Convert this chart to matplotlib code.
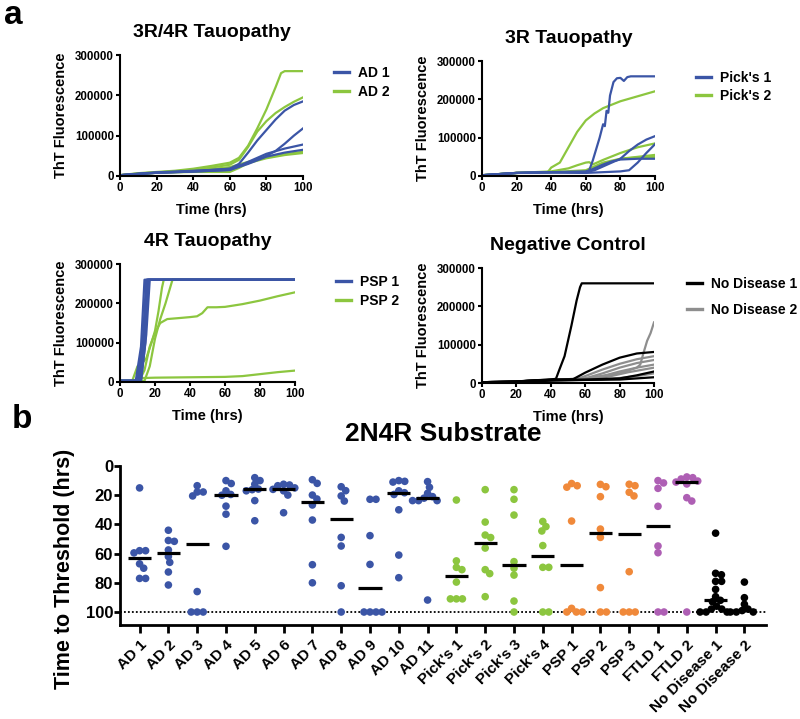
import numpy as np
import matplotlib
matplotlib.use("Agg")
import matplotlib.pyplot as plt
from matplotlib.lines import Line2D

plt.rcParams['font.family'] = ['Liberation Sans', 'DejaVu Sans']
plt.rcParams['font.weight'] = 'bold'
plt.rcParams['axes.labelweight'] = 'bold'
plt.rcParams['axes.titleweight'] = 'bold'

BLUE = '#3B55A6'
GREEN = '#8CC63F'
ORANGE = '#F0893A'
PURPLE = '#AE5FB4'
GRAY = '#8E8E8E'

# ---------------- panel a data: (time, ThT) ----------------
AD1_curves = [
    ([0, 10, 20, 30, 40, 50, 60, 65, 70, 75, 80, 85, 90, 95, 100],
     [2000, 6000, 9000, 11000, 13000, 15000, 18000, 30000, 58000, 88000, 114000, 140000, 162000, 176000, 185000]),
    ([0, 10, 20, 40, 60, 70, 80, 85, 90, 95, 100],
     [2000, 5000, 8000, 12000, 18000, 32000, 50000, 62000, 80000, 100000, 118000]),
    ([0, 10, 20, 40, 60, 70, 80, 90, 100],
     [2000, 5000, 8000, 11000, 15000, 35000, 55000, 68000, 78000]),
    ([0, 10, 20, 40, 60, 70, 80, 90, 100],
     [2000, 5000, 8000, 11000, 15000, 30000, 48000, 58000, 65000]),
]
AD2_curves = [
    ([0, 10, 20, 30, 40, 50, 60, 65, 70, 75, 80, 85, 88, 90, 100],
     [2000, 7000, 10000, 13000, 18000, 25000, 33000, 45000, 75000, 118000, 165000, 220000, 255000, 260000, 260000]),
    ([0, 10, 20, 40, 60, 65, 70, 75, 80, 85, 90, 95, 100],
     [2000, 6000, 9000, 14000, 28000, 40000, 72000, 110000, 136000, 156000, 171000, 184000, 195000]),
    ([0, 10, 20, 40, 60, 70, 80, 90, 100],
     [2000, 5000, 8000, 12000, 22000, 35000, 46000, 54000, 60000]),
    ([0, 10, 20, 40, 60, 65, 70, 80, 90, 100],
     [2000, 5000, 8000, 10000, 10000, 20000, 32000, 44000, 52000, 57000]),
]
PICK1_curves = [
    ([0, 10, 20, 40, 60, 62, 64, 66, 68, 70, 71, 72, 73, 74, 76, 78, 80, 82, 84, 86, 100],
     [2000, 5000, 8000, 10000, 12000, 15000, 40000, 70000, 100000, 135000, 130000, 170000, 165000, 210000, 245000, 255000, 256000, 248000, 258000, 260000, 260000]),
    ([0, 10, 20, 40, 60, 65, 70, 75, 80, 85, 90, 95, 100],
     [2000, 5000, 8000, 10000, 10000, 15000, 25000, 35000, 45000, 65000, 82000, 95000, 104000]),
    ([0, 10, 20, 40, 60, 70, 80, 85, 90, 95, 100],
     [2000, 5000, 8000, 9000, 8000, 10000, 12000, 15000, 35000, 60000, 83000]),
    ([0, 10, 20, 40, 60, 65, 70, 75, 80, 90, 100],
     [2000, 5000, 8000, 10000, 10000, 20000, 30000, 38000, 43000, 45000, 45000]),
]
PICK2_curves = [
    ([0, 10, 20, 30, 38, 40, 45, 50, 55, 60, 65, 70, 80, 90, 100],
     [2000, 5000, 8000, 9000, 10000, 22000, 35000, 75000, 115000, 145000, 163000, 177000, 195000, 208000, 221000]),
    ([0, 10, 20, 40, 50, 55, 60, 62, 64, 70, 80, 90, 100],
     [2000, 5000, 8000, 12000, 20000, 28000, 35000, 36000, 30000, 42000, 60000, 75000, 85000]),
    ([0, 10, 20, 40, 60, 65, 70, 80, 90, 100],
     [2000, 5000, 8000, 10000, 15000, 25000, 35000, 45000, 50000, 55000]),
    ([0, 10, 20, 40, 60, 70, 80, 90, 100],
     [2000, 5000, 8000, 10000, 10000, 30000, 45000, 48000, 50000]),
]
PSP1_curves = [
    ([0, 9, 12, 14, 100], [3000, 3000, 90000, 260000, 260000]),
    ([0, 10, 13, 15, 100], [3000, 3000, 100000, 260000, 260000]),
    ([0, 11, 14, 16, 100], [3000, 3000, 110000, 260000, 260000]),
    ([0, 12, 15, 17, 100], [3000, 3000, 120000, 260000, 260000]),
    ([0, 10, 14, 16, 100], [3000, 3000, 130000, 260000, 260000]),
    ([0, 12, 14.5, 15.5, 100], [3000, 3000, 100000, 260000, 260000]),
]
PSP2_curves = [
    ([0, 7, 10, 12, 15, 18, 20, 22, 24, 25, 100],
     [3000, 3000, 40000, 45000, 60000, 100000, 130000, 180000, 240000, 260000, 260000]),
    ([0, 14, 17, 20, 23, 26, 30, 100],
     [3000, 3000, 40000, 110000, 160000, 200000, 260000, 260000]),
    ([0, 11, 14, 17, 20, 23, 27, 35, 40, 44, 47, 50, 55, 60, 70, 80, 90, 100],
     [3000, 3000, 30000, 90000, 125000, 150000, 160000, 163000, 165000, 167000, 175000, 190000, 190000, 191000, 198000, 207000, 218000, 228000]),
    ([0, 8, 10, 12, 20, 40, 60, 70, 80, 90, 100],
     [3000, 3000, 8000, 10000, 11000, 12000, 13000, 15000, 20000, 25000, 29000]),
]
ND1_curves = [
    ([0, 20, 30, 40, 43, 45, 48, 50, 52, 55, 57, 58, 100],
     [2000, 4000, 7000, 9000, 11000, 35000, 70000, 110000, 150000, 215000, 250000, 260000, 260000]),
    ([0, 20, 40, 53, 60, 70, 80, 90, 100],
     [2000, 4000, 9000, 10000, 27000, 48000, 66000, 77000, 81000]),
    ([0, 20, 40, 60, 80, 90, 100],
     [1000, 4000, 8000, 9000, 12000, 20000, 30000]),
    ([0, 20, 40, 60, 80, 90, 100],
     [1000, 3000, 6000, 8000, 9000, 12000, 15000]),
]
ND2_curves = [
    ([0, 20, 40, 60, 80, 90, 92, 94, 96, 98, 100],
     [2000, 4000, 8000, 12000, 25000, 40000, 48000, 80000, 110000, 130000, 158000]),
    ([0, 20, 40, 55, 60, 70, 80, 90, 100],
     [2000, 4000, 8000, 10000, 18000, 35000, 50000, 62000, 70000]),
    ([0, 20, 40, 60, 70, 80, 90, 100],
     [2000, 4000, 8000, 12000, 25000, 40000, 52000, 60000]),
    ([0, 20, 40, 60, 70, 80, 90, 100],
     [2000, 4000, 8000, 10000, 18000, 30000, 40000, 48000]),
    ([0, 20, 40, 65, 75, 85, 100],
     [2000, 4000, 8000, 10000, 18000, 28000, 40000]),
    ([0, 20, 40, 70, 80, 90, 100],
     [2000, 4000, 7000, 9000, 13000, 18000, 25000]),
]

# ---------------- panel b data ----------------
categories = ['AD 1', 'AD 2', 'AD 3', 'AD 4', 'AD 5', 'AD 6', 'AD 7', 'AD 8', 'AD 9',
              'AD 10', 'AD 11', "Pick's 1", "Pick's 2", "Pick's 3", "Pick's 4",
              'PSP 1', 'PSP 2', 'PSP 3', 'FTLD 1', 'FTLD 2', 'No Disease 1', 'No Disease 2']
AD_1 = [15, 58, 58, 59.5, 67, 70, 77, 77]
AD_2 = [44, 51, 51.6, 57.5, 62, 66, 72.6, 81.5]
AD_3 = [13.5, 17.8, 17.8, 20.5, 86, 100, 100, 100]
AD_4 = [10, 12, 17, 19.5, 20, 27.5, 33, 55]
AD_5 = [8, 10, 12.5, 15.8, 16.2, 17, 23.7, 37.5]
AD_6 = [12.5, 13, 13.5, 15, 16, 17, 19.9, 32]
AD_7 = [9.4, 11.9, 19.9, 22.6, 26.7, 37, 67.6, 80]
AD_8 = [14.2, 16.9, 20.5, 24, 48.9, 54.8, 82, 100]
AD_9 = [22.8, 22.8, 47.7, 67.4, 100, 100, 100, 100]
AD_10 = [10, 10.5, 11, 17, 18.3, 19.5, 30, 61, 76.5]
AD_11 = [10.7, 14.6, 18.7, 21, 22, 23.7, 23.7, 23.7, 91.8]
PICKS_1 = [23.3, 65, 69.4, 71, 79.5, 91, 91, 91]
PICKS_2 = [16.2, 38.4, 47.3, 49, 56.2, 71, 73.7, 89.5]
PICKS_3 = [16.2, 22.8, 33.6, 65.5, 70, 74.7, 92.5, 100]
PICKS_4 = [38, 41.5, 44.5, 54.5, 69.4, 69.4, 100, 100]
PSP_1 = [12, 13.5, 14.5, 37.7, 97.5, 100, 100, 100]
PSP_2 = [12.6, 14.2, 21, 43.2, 48.9, 83.3, 100, 100]
PSP_3 = [12.5, 13.5, 18, 20.5, 72.4, 100, 100, 100]
FTLD_1 = [10, 11.6, 15.3, 27.6, 54.8, 59.4, 100, 100]
FTLD_2 = [7.5, 8, 8.9, 10.3, 11, 12.3, 21.7, 24, 100]
ND_1 = [46, 73.5, 74.5, 79, 79, 84.5, 89.5, 92, 93, 96, 98, 98, 100, 100, 100]
ND_2 = [79.5, 90.2, 94.7, 98, 99, 100, 100, 100]
group_values = [AD_1, AD_2, AD_3, AD_4, AD_5, AD_6, AD_7, AD_8, AD_9, AD_10, AD_11,
                PICKS_1, PICKS_2, PICKS_3, PICKS_4, PSP_1, PSP_2, PSP_3,
                FTLD_1, FTLD_2, ND_1, ND_2]
group_colors = [BLUE] * 11 + [GREEN] * 4 + [ORANGE] * 3 + [PURPLE] * 2 + ['black'] * 2
threshold = 100

fig = plt.figure(figsize=(8, 7.19), dpi=100)
W, H = 800, 719


def add_ax(l, r, t, b):
    return fig.add_axes([l / W, 1 - b / H, (r - l) / W, (b - t) / H])


def style_top(ax, title):
    ax.set_xlim(0, 100)
    ax.set_ylim(0, 300000)
    ax.set_xticks(range(0, 101, 20))
    ax.set_yticks([0, 100000, 200000, 300000])
    ax.set_yticklabels(['0', '100000', '200000', '300000'])
    for s in ['top', 'right']:
        ax.spines[s].set_visible(False)
    for s in ['left', 'bottom']:
        ax.spines[s].set_linewidth(1.5)
    ax.tick_params(direction='out', length=3, width=1.5, labelsize=8.3, pad=1.5)
    ax.set_xlabel('Time (hrs)', fontsize=10.5, labelpad=6)
    ax.set_ylabel('ThT Fluorescence', fontsize=10.5, labelpad=5)
    ax.set_title(title, fontsize=14, pad=13)


def line_panel(ax, groups, labels, colors, title, leg_xy, spacing):
    for curves, col in zip(groups[::-1], colors[::-1]):
        for t, y in curves:
            ax.plot(t, y, color=col, lw=1.6, solid_joinstyle='round')
    style_top(ax, title)
    handles = [Line2D([], [], color=c, lw=2.4) for c in colors]
    ax.legend(handles, labels, loc='upper left', bbox_to_anchor=(leg_xy[0] / W, 1 - leg_xy[1] / H),
              bbox_transform=fig.transFigure, frameon=False, fontsize=10,
              handlelength=1.1, handletextpad=0.6, borderaxespad=0, borderpad=0,
              labelspacing=spacing)


ax1 = add_ax(120, 303, 55, 176)
line_panel(ax1, [AD1_curves, AD2_curves], ['AD 1', 'AD 2'], [BLUE, GREEN], '3R/4R Tauopathy', (334, 66), 0.35)
ax2 = add_ax(482, 655, 61, 176)
line_panel(ax2, [PICK1_curves, PICK2_curves], ["Pick's 1", "Pick's 2"], [BLUE, GREEN], '3R Tauopathy', (696, 71), 0.3)
ax3 = add_ax(120, 295, 264, 382)
line_panel(ax3, [PSP1_curves, PSP2_curves], ['PSP 1', 'PSP 2'], [BLUE, GREEN], '4R Tauopathy', (336, 275), 0.35)
ax4 = add_ax(482, 654, 268, 383)
line_panel(ax4, [ND1_curves, ND2_curves], ['No Disease 1', 'No Disease 2'], ['black', GRAY], 'Negative Control', (687, 277), 0.85)

# ---------------- panel b ----------------
ax5 = add_ax(120, 766, 466, 625)
ax5.set_xlim(-0.68, 21.75)
ax5.set_ylim(108.9, 0)
ax5.axhline(threshold, color='black', lw=1.3, ls=(0, (1, 1.2)), zorder=1)


def swarm_positions(vals, xc, ax, dmin):
    vals = np.asarray(vals, dtype=float)
    disp = ax.transData.transform(np.column_stack([np.full(len(vals), xc), vals]))
    x0 = disp[0, 0]
    ys = disp[:, 1]
    placed = []
    offs = np.zeros(len(vals))
    for i in np.argsort(vals, kind='stable'):
        y = ys[i]
        cands = [0.0]
        for px, py in placed:
            dy = y - py
            if abs(dy) < dmin:
                dx = np.sqrt(dmin ** 2 - dy ** 2)
                cands += [px + dx, px - dx]
        cands = sorted(cands, key=lambda c: (abs(c), -c))
        for c in cands:
            if all((c - px) ** 2 + (y - py) ** 2 >= dmin ** 2 - 1e-6 for px, py in placed):
                break
        placed.append((c, y))
        offs[i] = c
    pts = np.column_stack([x0 + offs, ys])
    return ax.transData.inverted().transform(pts)[:, 0]


positions = np.arange(len(categories))
dpi_scale = fig.dpi / 100.0
for i, (vals, col) in enumerate(zip(group_values, group_colors)):
    xs = swarm_positions(vals, positions[i], ax5, 6.0 * dpi_scale)
    ax5.scatter(xs, vals, s=30, color=col, edgecolors='none', zorder=3)
    med = np.median(vals)
    ax5.plot([positions[i] - 0.4, positions[i] + 0.4], [med, med], color='black', lw=2.3,
             solid_capstyle='butt', zorder=4)

ax5.set_yticks(range(0, 101, 20))
ax5.set_xticks(positions)
ax5.set_xticklabels(categories, rotation=45, ha='right', rotation_mode='anchor', fontsize=11)
for s in ['top', 'right']:
    ax5.spines[s].set_visible(False)
for s in ['left', 'bottom']:
    ax5.spines[s].set_linewidth(2)
ax5.tick_params(axis='y', direction='out', length=4, width=2, labelsize=12, pad=1)
ax5.tick_params(axis='x', direction='out', length=6, width=2, pad=3)
ax5.set_ylabel('Time to Threshold (hrs)', fontsize=15.5)
ax5.yaxis.set_label_coords(-0.07, 0.35)
ax5.set_title('2N4R Substrate', fontsize=19, pad=18)

fig.text(13 / W, 1 - 16 / H, 'a', fontsize=24, ha='center', va='center')
fig.text(22 / W, 1 - 420 / H, 'b', fontsize=24, ha='center', va='center')

fig.savefig('out.png', dpi=100)
